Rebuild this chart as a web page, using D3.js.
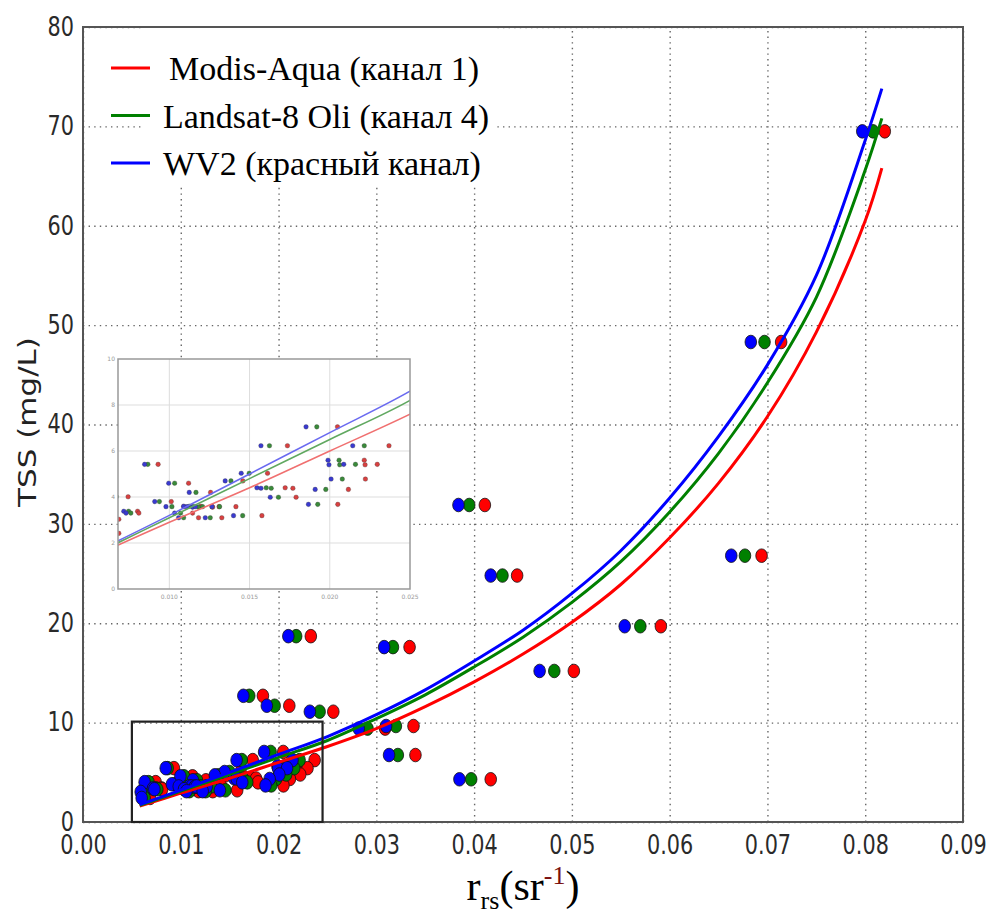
<!DOCTYPE html>
<html>
<head>
<meta charset="utf-8">
<script src="https://cdnjs.cloudflare.com/ajax/libs/d3/7.8.5/d3.min.js"></script>
<style>
  body { margin: 0; background: #fff; }
</style>
</head>
<body>
<div id="chart"></div>
<script>
// Samples: TSS value and r_rs for each sensor (same sample = same TSS)
var tss = [69.5, 48.3, 26.8, 19.7, 15.2, 31.9, 24.8, 4.3, 17.6, 9.4, 9.66, 6.74, 18.7, 11.7, 11.1, 12.7,
  7.05, 6.23, 6.23, 5.6, 5.4, 5.42, 5.42, 5.03, 4.78, 4.7, 4.6, 4.4, 4.38, 4.33, 4.2, 4.01, 3.99, 3.8,
  3.68, 3.58, 3.6, 3.58, 3.56, 3.58, 3.58, 3.38, 3.3, 3.3, 3.19, 3.1, 3.1, 3.03, 2.42];
var rrsWV2 = [0.0797, 0.0683, 0.0663, 0.0554, 0.0467, 0.0384, 0.0417, 0.0385, 0.0308, 0.0282, 0.0310, 0.0313, 0.0210, 0.0188, 0.0232, 0.0164,
  0.01852, 0.01571, 0.02143, 0.01989, 0.01995, 0.02087, 0.00846, 0.01448, 0.02008, 0.01348, 0.00996, 0.01546, 0.01571, 0.01909, 0.01124, 0.0063, 0.01629, 0.00909,
  0.01867, 0.00979, 0.01089, 0.0111, 0.01145, 0.01162, 0.01266, 0.00716, 0.0073, 0.01033, 0.0140, 0.01224, 0.01058, 0.0059, 0.0060];
var rrsLandsat = [0.0808, 0.0697, 0.0677, 0.0570, 0.0482, 0.0395, 0.0429, 0.0397, 0.0317, 0.0291, 0.0320, 0.0322, 0.0218, 0.0196, 0.0242, 0.0170,
  0.01919, 0.01624, 0.02215, 0.02058, 0.02062, 0.0216, 0.00866, 0.01498, 0.02078, 0.01384, 0.01033, 0.01604, 0.01635, 0.01975, 0.01166, 0.0067, 0.0168, 0.00938,
  0.01925, 0.01016, 0.01125, 0.01145, 0.01182, 0.01207, 0.01313, 0.00746, 0.0076, 0.0107, 0.01457, 0.01255, 0.01089, 0.0062, 0.0063];
var rrsModis = [0.0820, 0.0714, 0.0694, 0.0591, 0.0502, 0.0411, 0.0444, 0.0417, 0.0334, 0.0309, 0.0338, 0.0340, 0.0233, 0.0211, 0.0256, 0.0184,
  0.02048, 0.01736, 0.02369, 0.02215, 0.0222, 0.02296, 0.0093, 0.01612, 0.02222, 0.01458, 0.0112, 0.01722, 0.0177, 0.02116, 0.01257, 0.00743, 0.0179, 0.01012,
  0.0205, 0.0109, 0.01195, 0.01266, 0.0127, 0.0131, 0.01415, 0.00802, 0.0081, 0.01145, 0.01577, 0.01327, 0.01182, 0.00685, 0.00685];

// Fitted curves
var fitX = [0.0058, 0.010, 0.015, 0.020, 0.025, 0.030, 0.035, 0.040, 0.045, 0.050, 0.055, 0.060, 0.065, 0.070, 0.075, 0.080, 0.0817];
var fitWV2 = [1.75, 3.2, 5.0, 6.8, 8.6, 10.8, 13.3, 16.2, 19.3, 23.0, 27.3, 32.6, 38.8, 46.0, 55.0, 68.6, 73.8];
var fitLandsat = [1.67, 3.1, 4.8, 6.5, 8.2, 10.4, 12.8, 15.6, 18.6, 22.1, 26.2, 31.2, 37.1, 44.2, 52.8, 65.6, 70.8];
var fitModis = [1.6, 2.9, 4.4, 6.0, 7.6, 9.4, 11.6, 14.1, 16.9, 20.1, 23.9, 28.6, 34.1, 40.8, 49.3, 60.5, 65.8];

var xTicks = [0, 0.01, 0.02, 0.03, 0.04, 0.05, 0.06, 0.07, 0.08, 0.09];
var yTicks = [0, 10, 20, 30, 40, 50, 60, 70, 80];
var insetXTicks = [0.010, 0.015, 0.020, 0.025];
var insetYTicks = [0, 2, 4, 6, 8, 10];
var zoomBoxX = [0.005, 0.0245];
var zoomBoxY = [0, 10.1];

var seriesNames = ["Modis-Aqua (канал 1)", "Landsat-8 Oli (канал 4)", "WV2 (красный канал)"];
var seriesColors = ["#ff0000", "#008000", "#0000ff"];

// Set up size and margins
var svgWidth = 989;
var svgHeight = 915;
var margin = { top: 27, right: 26, bottom: 93, left: 83 };
var chartWidth = svgWidth - margin.left - margin.right;
var chartHeight = svgHeight - margin.top - margin.bottom;

var svg = d3.select("#chart")
  .append("svg")
  .attr("width", svgWidth)
  .attr("height", svgHeight);

var chartGroup = svg.append("g")
  .attr("transform", `translate(${margin.left}, ${margin.top})`);

// Scales
var xScale = d3.scaleLinear().domain([0, 0.09]).range([0, chartWidth]);
var yScale = d3.scaleLinear().domain([0, 80]).range([chartHeight, 0]);

// Dotted grid
var gridX = chartGroup.append("g")
  .attr("transform", `translate(0, ${chartHeight})`)
  .call(d3.axisBottom(xScale).tickValues(xTicks).tickSize(-chartHeight).tickFormat(""));
var gridY = chartGroup.append("g")
  .call(d3.axisLeft(yScale).tickValues(yTicks).tickSize(-chartWidth).tickFormat(""));
[gridX, gridY].forEach(function(g) {
  g.select(".domain").remove();
  g.selectAll("line")
    .attr("stroke", "#666")
    .attr("stroke-width", 1.4)
    .attr("stroke-dasharray", "1.4,4.2");
});

// Tick labels (the source picture is squeezed sideways, so the glyphs are narrowed)
var xAxis = chartGroup.append("g")
  .attr("transform", `translate(0, ${chartHeight})`)
  .call(d3.axisBottom(xScale).tickValues(xTicks).tickSize(0).tickPadding(14).tickFormat(d3.format(".2f")));
var yAxis = chartGroup.append("g")
  .call(d3.axisLeft(yScale).tickValues(yTicks).tickSize(0).tickPadding(9).tickFormat(d3.format("d")));
[xAxis, yAxis].forEach(function(g) {
  g.select(".domain").remove();
  g.selectAll("text")
    .style("font-family", "DejaVu Sans")
    .style("font-size", "26px")
    .attr("fill", "#2a2a2a")
    .attr("transform", "scale(0.8,1)");
});
yAxis.selectAll("text").attr("x", -9 / 0.8);

// Frame
chartGroup.append("rect")
  .attr("width", chartWidth)
  .attr("height", chartHeight)
  .attr("fill", "none")
  .attr("stroke", "#555")
  .attr("stroke-width", 2);

// Legend background covers the grid
chartGroup.append("rect")
  .attr("x", 60)
  .attr("y", 1)
  .attr("width", 354)
  .attr("height", 158)
  .attr("fill", "#fff");

// Inset
var insetLeft = 118 - margin.left, insetTop = 359 - margin.top;
var insetW = 292, insetH = 230;
var insetGroup = chartGroup.append("g")
  .attr("transform", `translate(${insetLeft}, ${insetTop})`);
var ixScale = d3.scaleLinear().domain([0.0068, 0.025]).range([0, insetW]);
var iyScale = d3.scaleLinear().domain([0, 10]).range([insetH, 0]);

insetGroup.append("rect")
  .attr("width", insetW)
  .attr("height", insetH)
  .attr("fill", "#fff");

svg.append("clipPath").attr("id", "insetClip")
  .append("rect").attr("width", insetW).attr("height", insetH);

insetGroup.selectAll(".igx")
  .data(insetXTicks.slice(0, 3))
  .enter()
  .append("line")
  .attr("x1", d => ixScale(d)).attr("x2", d => ixScale(d))
  .attr("y1", 0).attr("y2", insetH)
  .attr("stroke", "#ddd");
insetGroup.selectAll(".igy")
  .data(insetYTicks.slice(1, 5))
  .enter()
  .append("line")
  .attr("x1", 0).attr("x2", insetW)
  .attr("y1", d => iyScale(d)).attr("y2", d => iyScale(d))
  .attr("stroke", "#ddd");

insetGroup.selectAll(".ixl")
  .data(insetXTicks)
  .enter()
  .append("text")
  .attr("x", d => ixScale(d))
  .attr("y", insetH + 10)
  .attr("text-anchor", "middle")
  .style("font-family", "DejaVu Sans")
  .style("font-size", "6px")
  .attr("fill", "#999")
  .text(d => d3.format(".3f")(d));
insetGroup.selectAll(".iyl")
  .data(insetYTicks)
  .enter()
  .append("text")
  .attr("x", -3)
  .attr("y", d => iyScale(d) + 2)
  .attr("text-anchor", "end")
  .style("font-family", "DejaVu Sans")
  .style("font-size", "6px")
  .attr("fill", "#999")
  .text(d => d);

var seriesX = [rrsModis, rrsLandsat, rrsWV2];
var seriesFit = [fitModis, fitLandsat, fitWV2];
var insetColors = ["#d84040", "#3a8a3a", "#3a3ad0"];
var insetLineColors = ["#f07070", "#60a860", "#6a6af0"];

var insetPlot = insetGroup.append("g").attr("clip-path", "url(#insetClip)");
seriesX.forEach(function(xs, i) {
  insetPlot.selectAll(".ip" + i)
    .data(tss.map((t, j) => [xs[j], t]))
    .enter()
    .append("circle")
    .attr("cx", d => ixScale(d[0]))
    .attr("cy", d => iyScale(d[1]))
    .attr("r", 2.3)
    .attr("fill", insetColors[i])
    .attr("stroke", "#333")
    .attr("stroke-width", 0.3);
});
seriesFit.forEach(function(ys, i) {
  insetPlot.append("path")
    .datum(fitX.map((x, j) => [x, ys[j]]))
    .attr("fill", "none")
    .attr("stroke", insetLineColors[i])
    .attr("stroke-width", 1.6)
    .attr("d", d3.line().x(d => ixScale(d[0])).y(d => iyScale(d[1])).curve(d3.curveCatmullRom));
});

insetGroup.append("rect")
  .attr("width", insetW)
  .attr("height", insetH)
  .attr("fill", "none")
  .attr("stroke", "#999")
  .attr("stroke-width", 1.5);

// Scatter points, blue on top
seriesX.forEach(function(xs, i) {
  chartGroup.selectAll(".pt" + i)
    .data(tss.map((t, j) => [xs[j], t]))
    .enter()
    .append("ellipse")
    .attr("cx", d => xScale(d[0]))
    .attr("cy", d => yScale(d[1]))
    .attr("rx", 5.8)
    .attr("ry", 6.8)
    .attr("fill", seriesColors[i])
    .attr("stroke", "#111")
    .attr("stroke-width", 0.8);
});

// Fitted curves
seriesFit.forEach(function(ys, i) {
  chartGroup.append("path")
    .datum(fitX.map((x, j) => [x, ys[j]]))
    .attr("fill", "none")
    .attr("stroke", seriesColors[i])
    .attr("stroke-width", 3)
    .attr("d", d3.line().x(d => xScale(d[0])).y(d => yScale(d[1])).curve(d3.curveCatmullRom));
});

// Zoom box
chartGroup.append("rect")
  .attr("x", xScale(zoomBoxX[0]))
  .attr("y", yScale(zoomBoxY[1]))
  .attr("width", xScale(zoomBoxX[1]) - xScale(zoomBoxX[0]))
  .attr("height", yScale(zoomBoxY[0]) - yScale(zoomBoxY[1]))
  .attr("fill", "none")
  .attr("stroke", "#222")
  .attr("stroke-width", 2.2);

// Legend
var legend = chartGroup.selectAll(".legend")
  .data(seriesNames)
  .enter()
  .append("g")
  .attr("transform", (d, i) => `translate(0, ${41 + i * 47.5})`);
legend.append("line")
  .attr("x1", 28).attr("x2", 67)
  .attr("stroke", (d, i) => seriesColors[i])
  .attr("stroke-width", 3);
legend.append("text")
  .attr("x", (d, i) => i == 0 ? 86 : 80)
  .attr("y", 12)
  .style("font-family", "Liberation Serif")
  .style("font-size", "34px")
  .attr("fill", "#000")
  .text(d => d);

// Axis labels
chartGroup.append("text")
  .attr("transform", `translate(${-margin.left + 36}, ${422 - margin.top}) scale(0.8,1) rotate(-90)`)
  .attr("text-anchor", "middle")
  .style("font-family", "DejaVu Sans")
  .style("font-size", "31px")
  .attr("fill", "#222")
  .text("TSS (mg/L)");

var xLabel = chartGroup.append("text")
  .attr("x", chartWidth / 2)
  .attr("y", chartHeight + 78)
  .attr("text-anchor", "middle")
  .style("font-family", "Liberation Serif")
  .style("font-size", "42px")
  .attr("fill", "#000");
xLabel.append("tspan").text("r");
xLabel.append("tspan").attr("dy", 9).style("font-size", "26px").text("rs");
xLabel.append("tspan").attr("dy", -9).text("(sr");
xLabel.append("tspan").attr("dy", -16).style("font-size", "26px").attr("fill", "#7a1010").text("-1");
xLabel.append("tspan").attr("dy", 16).text(")");
</script>
</body>
</html>
